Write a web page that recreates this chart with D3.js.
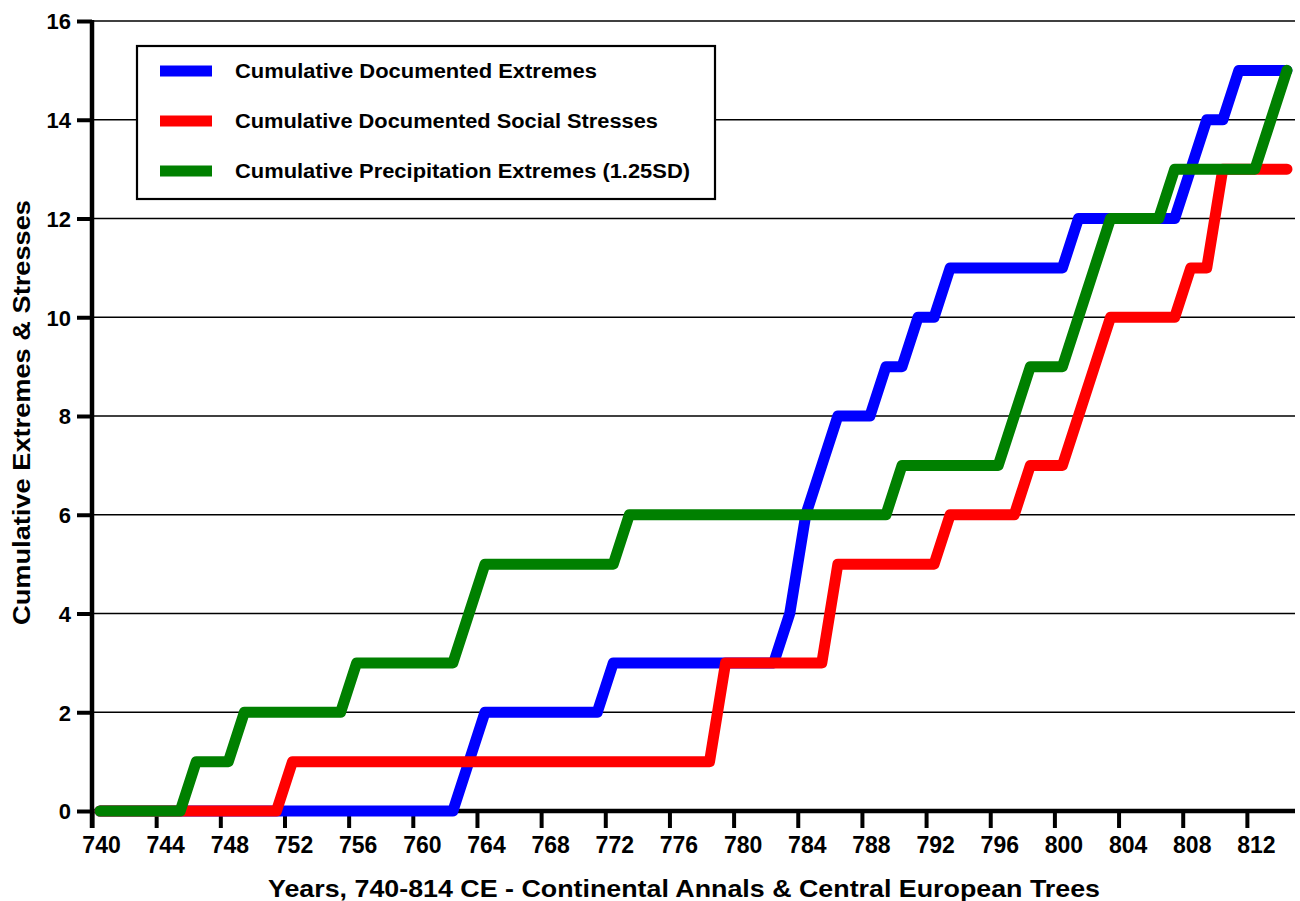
<!DOCTYPE html>
<html>
<head>
<meta charset="utf-8">
<script src="https://cdn.jsdelivr.net/npm/d3@7"></script>
<style>
  html, body { margin: 0; padding: 0; background: #fff; }
  svg { display: block; }
  text { font-family: "Liberation Sans", Arial, Helvetica, sans-serif; font-weight: bold; fill: #000; }
</style>
</head>
<body>
<svg id="chart" width="1300" height="901"></svg>
<script>
// ---------- DATA ----------
const years = [740,741,742,743,744,745,746,747,748,749,750,751,752,753,754,755,756,757,758,759,
  760,761,762,763,764,765,766,767,768,769,770,771,772,773,774,775,776,777,778,779,
  780,781,782,783,784,785,786,787,788,789,790,791,792,793,794,795,796,797,798,799,
  800,801,802,803,804,805,806,807,808,809,810,811,812,813,814];

const documentedExtremes = [0,0,0,0,0,0,0,0,0,0,0,0,0,0,0,0,0,0,0,0,
  0,0,0,1,2,2,2,2,2,2,2,2,3,3,3,3,3,3,3,3,
  3,3,3,4,6,7,8,8,8,9,9,10,10,11,11,11,11,11,11,11,
  11,12,12,12,12,12,12,12,13,14,14,15,15,15,15];

const socialStresses = [0,0,0,0,0,0,0,0,0,0,0,0,1,1,1,1,1,1,1,1,
  1,1,1,1,1,1,1,1,1,1,1,1,1,1,1,1,1,1,1,3,
  3,3,3,3,3,3,5,5,5,5,5,5,5,6,6,6,6,6,7,7,
  7,8,9,10,10,10,10,10,11,11,13,13,13,13,13];

const precipExtremes = [0,0,0,0,0,0,1,1,1,2,2,2,2,2,2,2,3,3,3,3,
  3,3,3,4,5,5,5,5,5,5,5,5,5,6,6,6,6,6,6,6,
  6,6,6,6,6,6,6,6,6,6,7,7,7,7,7,7,7,8,9,9,
  9,10,11,12,12,12,12,13,13,13,13,13,13,14,15];

const seriesNames = ["Cumulative Documented Extremes",
                     "Cumulative Documented Social Stresses",
                     "Cumulative Precipitation Extremes (1.25SD)"];
const seriesColors = ["#0000ff", "#ff0000", "#008000"];

const xTickYears = [740,744,748,752,756,760,764,768,772,776,780,784,788,792,796,800,804,808,812];
const yTickValues = [0,2,4,6,8,10,12,14,16];

const xTitle = "Years, 740-814 CE - Continental Annals & Central European Trees";
const yTitle = "Cumulative Extremes & Stresses";

// ---------- LAYOUT ----------
const svg = d3.select("#chart");
const plotLeft = 92, plotRight = 1295, plotTop = 21, plotBottom = 811;

const x = d3.scaleLinear().domain([739.5, 814.5]).range([plotLeft, plotRight]);
const y = d3.scaleLinear().domain([0, 16]).range([plotBottom, plotTop]);

svg.append("rect").attr("width", 1300).attr("height", 901).attr("fill", "#fff");

// gridlines
svg.append("g").selectAll("line")
  .data(yTickValues.filter(v => v > 0))
  .join("line")
  .attr("x1", plotLeft).attr("x2", plotRight)
  .attr("y1", d => y(d)).attr("y2", d => y(d))
  .attr("stroke", "#000").attr("stroke-width", 1.6);

// legend box (white, over gridlines)
const legend = svg.append("g");
legend.append("rect")
  .attr("x", 137).attr("y", 46).attr("width", 578).attr("height", 153)
  .attr("fill", "#fff").attr("stroke", "#000").attr("stroke-width", 2.2);

const legendRows = [71, 121, 171];
const legendWidths = [362, 423, 455];
seriesNames.forEach((name, i) => {
  legend.append("rect")
    .attr("x", 160).attr("y", legendRows[i] - 5.5).attr("width", 52).attr("height", 11)
    .attr("fill", seriesColors[i]);
  legend.append("text")
    .attr("x", 235).attr("y", legendRows[i] + 7)
    .attr("font-size", 20)
    .attr("textLength", legendWidths[i]).attr("lengthAdjust", "spacingAndGlyphs")
    .text(name);
});

// y axis
const yAxis = d3.axisLeft(y).tickValues(yTickValues).tickSize(15).tickPadding(6);
const gy = svg.append("g").attr("transform", `translate(${plotLeft},0)`).call(yAxis);
gy.select(".domain").remove();
gy.selectAll(".tick line").attr("stroke", "#000").attr("stroke-width", 4);
gy.selectAll(".tick text").attr("font-size", 22).attr("font-family", null)
  .attr("dy", "0.36em");

// x axis (ticks sit half a year before the labelled year)
const xAxis = d3.axisBottom(x)
  .tickValues(xTickYears.map(d => d - 0.5))
  .tickFormat(d => String(d + 0.5))
  .tickSize(17).tickPadding(9);
const gx = svg.append("g").attr("transform", `translate(0,${plotBottom})`).call(xAxis);
gx.select(".domain").remove();
gx.selectAll(".tick line").attr("stroke", "#000").attr("stroke-width", 4);
gx.selectAll(".tick text").attr("font-size", 23).attr("font-family", null)
  .attr("dx", x(740) - x(739.5) + 1);

// axis lines
svg.append("line").attr("x1", plotLeft).attr("x2", plotLeft).attr("y1", plotTop - 1).attr("y2", plotBottom + 17)
  .attr("stroke", "#000").attr("stroke-width", 4.5);
svg.append("line").attr("x1", plotLeft).attr("x2", plotRight).attr("y1", plotBottom).attr("y2", plotBottom)
  .attr("stroke", "#000").attr("stroke-width", 4.5);

// series lines
const allSeries = [documentedExtremes, socialStresses, precipExtremes];
const line = d3.line().x(d => x(d[0])).y(d => y(d[1]));
allSeries.forEach((vals, i) => {
  svg.append("path")
    .datum(years.map((yr, j) => [yr, vals[j]]))
    .attr("d", line)
    .attr("fill", "none")
    .attr("stroke", seriesColors[i])
    .attr("stroke-width", 11)
    .attr("stroke-linejoin", "round")
    .attr("stroke-linecap", "round");
});

// titles
svg.append("text")
  .attr("x", 268).attr("y", 897)
  .attr("font-size", 24)
  .attr("textLength", 832).attr("lengthAdjust", "spacingAndGlyphs")
  .text(xTitle);

svg.append("text")
  .attr("transform", "translate(30,625) rotate(-90)")
  .attr("font-size", 23)
  .attr("textLength", 425).attr("lengthAdjust", "spacingAndGlyphs")
  .text(yTitle);
</script>
</body>
</html>
